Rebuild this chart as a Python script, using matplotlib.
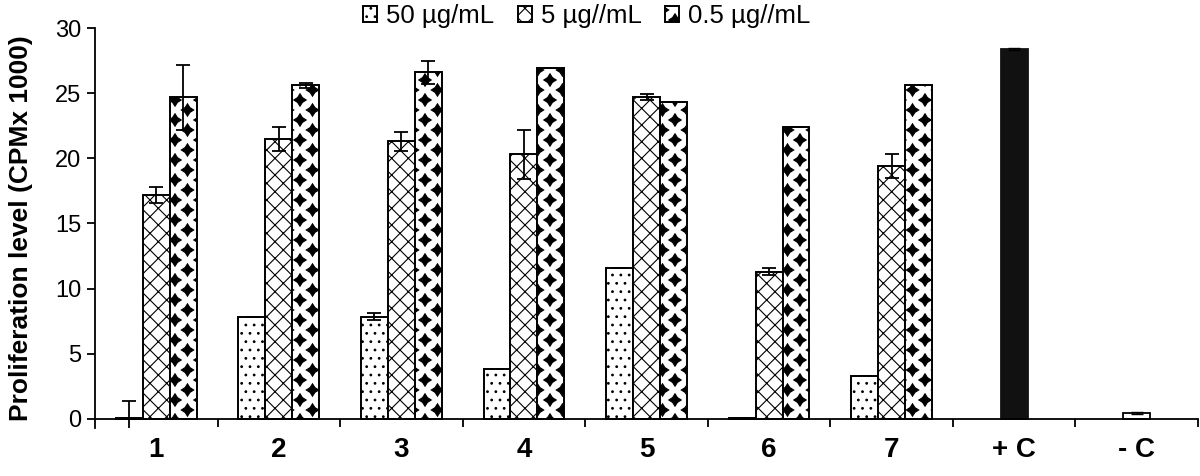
import numpy as np
import matplotlib
matplotlib.use("Agg")
import matplotlib.pyplot as plt
import matplotlib.hatch as mhatch
from matplotlib.path import Path

# data
samples = ["1", "2", "3", "4", "5", "6", "7"]
controls = ["+ C", "- C"]
series = ["50 µg/mL", "5 µg//mL", "0.5 µg//mL"]

v50 = [0.1, 7.85, 7.85, 3.8, 11.6, 0.1, 3.3]
e50 = [1.25, 0, 0.25, 0, 0, 0, 0]
v5 = [17.2, 21.5, 21.3, 20.3, 24.7, 11.3, 19.4]
e5 = [0.6, 0.9, 0.75, 1.85, 0.2, 0.25, 0.9]
v05 = [24.7, 25.6, 26.6, 26.9, 24.3, 22.4, 25.6]
e05 = [2.5, 0.2, 0.9, 0, 0, 0, 0]

ctrl_vals = [28.4, 0.45]
ctrl_errs = [0.1, 0.1]

yticks = [0, 5, 10, 15, 20, 25, 30]


# black diamond lattice, used in place of the star hatch ('*')
class DiamondHatch(mhatch.HatchPatternBase):
    def __init__(self, hatch, density):
        n = hatch.count('*')
        self.pts = []
        if n:
            nx, ny = 4 * n, 5 * n
            for i in range(nx + 1):
                for j in range(ny + 1):
                    self.pts.append((i / nx, j / ny))
            for i in range(nx):
                for j in range(ny):
                    self.pts.append(((i + 0.5) / nx, (j + 0.5) / ny))
        self.shape = Path.unit_regular_star(4, 0.55)
        self.num_vertices = len(self.pts) * len(self.shape.vertices)

    def set_vertices_and_codes(self, vertices, codes):
        v = self.shape.vertices * 0.062
        vertices[:] = np.concatenate([v + np.array(p) for p in self.pts])
        codes[:] = np.tile(self.shape.codes, len(self.pts))


mhatch._hatch_types = [DiamondHatch if t is mhatch.Stars else t
                       for t in mhatch._hatch_types]

plt.rcParams['font.family'] = ['Liberation Sans', 'DejaVu Sans']
plt.rcParams['hatch.linewidth'] = 0.8

fig = plt.figure(figsize=(12, 4.76), dpi=100)
ax = fig.add_axes([0.0792, 0.1008, 0.9191, 0.8403])

x = np.arange(len(samples))
w = 0.22
hatches = ['..', 'xx', '*']
vals = [v50, v5, v05]
errs = [e50, e5, e05]
handles = []
for k in range(3):
    b = ax.bar(x + (k - 1) * w, vals[k], w, color='white', edgecolor='black',
               linewidth=1.4, hatch=hatches[k], label=series[k], zorder=2)
    handles.append(b)
    ax.errorbar(x + (k - 1) * w, vals[k], yerr=errs[k], fmt='none',
                ecolor='black', elinewidth=1.3, capsize=5, capthick=1.3, zorder=3)

xc = np.arange(len(samples), len(samples) + len(controls))
ax.bar(xc, ctrl_vals, w, color=['#111111', 'white'], edgecolor=['#111111', 'black'],
       linewidth=1.3, zorder=2)
ax.errorbar(xc, ctrl_vals, yerr=ctrl_errs, fmt='none', ecolor='black',
            elinewidth=1.0, capsize=4, capthick=1.0, zorder=3)

ax.set_xlim(-0.5, len(samples) + len(controls) - 0.5)
ax.set_ylim(-0.7, 30)
ax.spines['top'].set_visible(False)
ax.spines['right'].set_visible(False)
ax.spines['bottom'].set_position(('data', 0))
ax.spines['left'].set_linewidth(1.3)
ax.spines['bottom'].set_linewidth(1.3)

ax.set_yticks(yticks)
ax.tick_params(axis='y', direction='out', length=6, width=1.3, labelsize=17, pad=4)

ncat = len(samples) + len(controls)
ax.set_xticks(np.arange(0.5, ncat, 1.0))
ax.set_xticklabels([])
ax.set_xticks(np.arange(ncat), minor=True)
ax.set_xticklabels(samples + controls, minor=True, fontsize=20, fontweight='bold')
ax.tick_params(axis='x', which='major', direction='out', length=6, width=1.3)
ax.tick_params(axis='x', which='minor', length=0, pad=13)

ax.set_ylabel('Proliferation level (CPMx 1000)', fontsize=19, fontweight='bold',
              labelpad=16)

fig.legend(handles=handles, loc='center', bbox_to_anchor=(0.489, 0.966), ncol=3,
           frameon=False, fontsize=18.5, handlelength=0.55, handleheight=0.55,
           handletextpad=0.35, columnspacing=0.9, borderpad=0)

fig.savefig('out.png', dpi=100)
